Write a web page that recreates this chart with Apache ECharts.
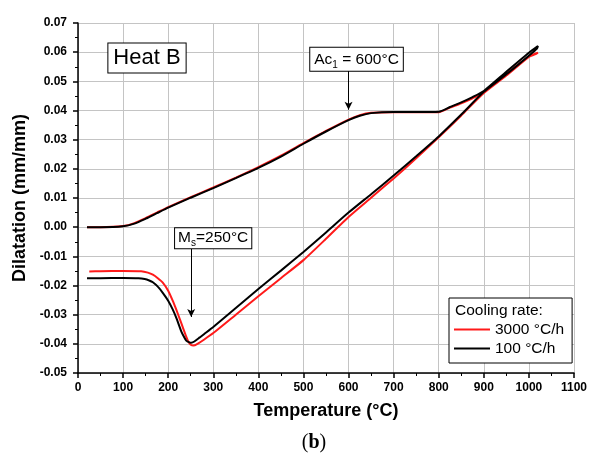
<!DOCTYPE html>
<html>
<head>
<meta charset="utf-8">
<script src="https://cdn.jsdelivr.net/npm/echarts@6/dist/echarts.min.js"></script>
<style>
html,body{margin:0;padding:0;background:#fff;}
#c{width:590px;height:454px;}
</style>
</head>
<body>
<div id="c"></div>
<script>
// ---- data ----
const xTicks = [0, 100, 200, 300, 400, 500, 600, 700, 800, 900, 1000, 1100];
const yTicks = [-0.05, -0.04, -0.03, -0.02, -0.01, 0.00, 0.01, 0.02, 0.03, 0.04, 0.05, 0.06, 0.07];
const seriesNames = ['3000 °C/h', '100 °C/h'];

const heatT = [20, 50, 100, 125, 150, 175, 200, 250, 300, 350, 400, 450, 500, 550, 600, 625, 650, 700, 750, 800, 825, 850, 875, 900, 950, 1000, 1020];
const heat3000 = [0.0000, 0.0000, 0.0004, 0.0014, 0.0031, 0.0050, 0.0069, 0.0103, 0.0136, 0.0170, 0.0206, 0.0245, 0.0288, 0.0330, 0.0369, 0.0384, 0.0392, 0.0394, 0.0394, 0.0394, 0.0410, 0.0425, 0.0442, 0.0462, 0.0526, 0.0585, 0.0598];
const heat100 = [0.0000, 0.0000, 0.0003, 0.0012, 0.0029, 0.0048, 0.0067, 0.0101, 0.0134, 0.0168, 0.0203, 0.0242, 0.0286, 0.0328, 0.0367, 0.0382, 0.0391, 0.0395, 0.0395, 0.0396, 0.0412, 0.0428, 0.0446, 0.0467, 0.0533, 0.0598, 0.0621];

const coolT3000 = [1015, 1000, 950, 900, 850, 800, 750, 700, 650, 600, 550, 500, 450, 400, 350, 300, 280, 265, 256, 250, 245, 240, 233, 226, 218, 210, 200, 188, 177, 166, 155, 140, 100, 50, 25];
const cool3000 = [0.0593, 0.0584, 0.0520, 0.0460, 0.0383, 0.0308, 0.0236, 0.0167, 0.0101, 0.0035, -0.0040, -0.0113, -0.0175, -0.0237, -0.0300, -0.0363, -0.0385, -0.0400, -0.0406, -0.0403, -0.0393, -0.0375, -0.0346, -0.0316, -0.0283, -0.0252, -0.0218, -0.0190, -0.0175, -0.0163, -0.0156, -0.0151, -0.0150, -0.0151, -0.0152];

const coolT100 = [1018, 1000, 950, 900, 850, 800, 750, 700, 650, 600, 550, 500, 450, 400, 350, 300, 280, 270, 258, 251, 247, 240, 235, 229, 218, 210, 200, 188, 177, 166, 158, 148, 134, 100, 50, 20];
const cool100 = [0.0612, 0.0588, 0.0524, 0.0464, 0.0386, 0.0311, 0.0243, 0.0177, 0.0113, 0.0050, -0.0018, -0.0085, -0.0149, -0.0212, -0.0277, -0.0342, -0.0366, -0.0378, -0.0392, -0.0396, -0.0395, -0.0389, -0.0376, -0.0357, -0.0311, -0.0282, -0.0252, -0.0225, -0.0204, -0.0189, -0.0183, -0.0178, -0.0175, -0.0174, -0.0175, -0.0175];

// annotations (data coordinates of arrow start / tip)
const acArrow = [[600, 0.0536], [600, 0.0403]];
const msArrow = [[251, -0.0072], [251, -0.0308]];

// ---- chart ----
const FONT = 'Liberation Sans, Arial, Helvetica, sans-serif';
const pairs = (xs, ys) => xs.map((x, i) => [x, ys[i]]);
const dataRed = pairs(heatT, heat3000).concat(pairs(coolT3000, cool3000));
const dataBlack = pairs(heatT, heat100).concat(pairs(coolT100, cool100));

const chart = echarts.init(document.getElementById('c'), null, {renderer: 'canvas'});

const axisCommon = {
  axisLine: {show: true, onZero: false, lineStyle: {color: '#000', width: 1.5}},
  axisTick: {show: true, inside: false, length: 5, lineStyle: {color: '#000', width: 1.5}},
  minorTick: {show: true, splitNumber: 2, length: 3, lineStyle: {color: '#000', width: 1}},
  splitLine: {show: true, lineStyle: {color: '#c4c4c4', width: 1}},
  nameLocation: 'middle',
  nameTextStyle: {fontFamily: FONT, fontWeight: 'bold', fontSize: 18, color: '#000'}
};

chart.setOption({
  animation: false,
  backgroundColor: '#fff',
  grid: {left: 78, right: 13, top: 23, bottom: 81, containLabel: false},
  xAxis: Object.assign({}, axisCommon, {
    type: 'value',
    min: xTicks[0], max: xTicks[xTicks.length - 1], interval: 100,
    name: 'Temperature (°C)', nameGap: 29,
    axisLabel: {margin: 9, fontFamily: FONT, fontWeight: 'bold', fontSize: 12, color: '#000',
      formatter: v => String(Math.round(v))}
  }),
  yAxis: Object.assign({}, axisCommon, {
    type: 'value',
    min: yTicks[0], max: yTicks[yTicks.length - 1], interval: 0.01,
    name: 'Dilatation (mm/mm)', nameGap: 40,
    axisLabel: {margin: 11, fontFamily: FONT, fontWeight: 'bold', fontSize: 12, color: '#000',
      formatter: v => Math.abs(v) < 1e-9 ? '0.00' : v.toFixed(2)}
  }),
  legend: {
    show: true,
    orient: 'vertical',
    left: 449, top: 298,
    padding: [22, 8, 5, 5],
    itemGap: 0,
    itemWidth: 36, itemHeight: 2,
    icon: 'rect',
    borderColor: '#000', borderWidth: 1, backgroundColor: '#fff',
    selectedMode: false,
    textStyle: {fontFamily: FONT, fontSize: 15.5, color: '#000', lineHeight: 19},
    data: seriesNames
  },
  series: [
    {
      name: seriesNames[0], type: 'line', data: dataRed,
      showSymbol: false, smooth: 0.2, z: 2,
      lineStyle: {color: '#ff1a1a', width: 2}, itemStyle: {color: '#ff1a1a'}
    },
    {
      name: seriesNames[1], type: 'line', data: dataBlack,
      showSymbol: false, smooth: 0.2, z: 3,
      lineStyle: {color: '#000', width: 2}, itemStyle: {color: '#000'},
      markLine: {
        silent: true, animation: false,
        symbol: ['none', 'arrow'], symbolSize: [6, 8],
        lineStyle: {color: '#000', width: 1, type: 'solid'},
        label: {show: false},
        data: [
          [{coord: acArrow[0]}, {coord: acArrow[1]}],
          [{coord: msArrow[0]}, {coord: msArrow[1]}]
        ]
      }
    }
  ]
});

// boxes anchored to the arrow starts
const pAc = chart.convertToPixel({gridIndex: 0}, acArrow[0]);
const pMs = chart.convertToPixel({gridIndex: 0}, msArrow[0]);
const boxStyle = {backgroundColor: '#fff', borderColor: '#000', borderWidth: 1, fill: '#000', align: 'center', verticalAlign: 'bottom'};

chart.setOption({
  graphic: [
    {
      type: 'text', x: 147, y: 58, z: 100,
      style: Object.assign({}, boxStyle, {
        text: 'Heat B', font: '22px ' + FONT, verticalAlign: 'middle',
        padding: [4, 5, 3, 5]
      })
    },
    {
      type: 'text', x: pAc[0] + 8, y: pAc[1], z: 100,
      style: Object.assign({}, boxStyle, {
        text: '{n|Ac}{s|1}{n| = 600°C}',
        padding: [2, 4, 1, 4],
        rich: {
          n: {fontFamily: FONT, fontSize: 15.5, lineHeight: 20, verticalAlign: 'middle', color: '#000'},
          s: {fontFamily: FONT, fontSize: 10, lineHeight: 20, verticalAlign: 'bottom', color: '#000'}
        }
      })
    },
    {
      type: 'text', x: pMs[0] + 22, y: pMs[1], z: 100,
      style: Object.assign({}, boxStyle, {
        text: '{n|M}{s|s}{n|=250°C}',
        padding: [0, 3, 0, 3],
        rich: {
          n: {fontFamily: FONT, fontSize: 15.5, lineHeight: 20, verticalAlign: 'middle', color: '#000'},
          s: {fontFamily: FONT, fontSize: 10, lineHeight: 20, verticalAlign: 'bottom', color: '#000'}
        }
      })
    },
    {
      type: 'text', x: 455, y: 311, z: 100,
      style: {text: 'Cooling rate:', font: '15.5px ' + FONT, fill: '#000', align: 'left', verticalAlign: 'middle'}
    },
    {
      type: 'text', x: 314, y: 443, z: 100,
      style: {
        text: '{p|(}{b|b}{p|)}', align: 'center', verticalAlign: 'middle',
        rich: {
          p: {fontFamily: 'Liberation Serif, Times New Roman, serif', fontSize: 20, color: '#000'},
          b: {fontFamily: 'Liberation Serif, Times New Roman, serif', fontSize: 20, fontWeight: 'bold', color: '#000'}
        }
      }
    }
  ]
});
</script>
</body>
</html>
